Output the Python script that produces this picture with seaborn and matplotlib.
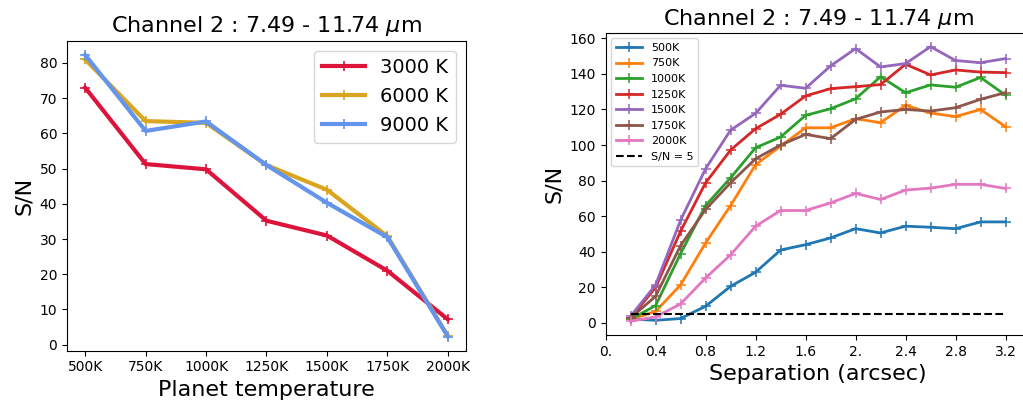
import matplotlib
matplotlib.use("Agg")
import matplotlib.pyplot as plt
import seaborn as sns
import numpy as np
import pandas as pd

# ---- Left panel data ----
planet_temps = ["500K", "750K", "1000K", "1250K", "1500K", "1750K", "2000K"]
star_labels = ["3000 K", "6000 K", "9000 K"]
sn_3000 = [73.0, 51.3, 49.8, 35.2, 31.0, 21.0, 7.2]
sn_6000 = [81.0, 63.5, 63.0, 51.0, 44.0, 30.8, 2.5]
sn_9000 = [82.3, 60.7, 63.4, 51.0, 40.3, 30.5, 2.3]
left_colors = ["crimson", "goldenrod", "cornflowerblue"]

# ---- Right panel data ----
separation = [0.2, 0.4, 0.6, 0.8, 1.0, 1.2, 1.4, 1.6, 1.8, 2.0, 2.2, 2.4, 2.6, 2.8, 3.0, 3.2]
sep_labels = ["500K", "750K", "1000K", "1250K", "1500K", "1750K", "2000K"]
sn_500 = [2.2, 1.5, 2.5, 9.4, 20.6, 28.5, 41.0, 44.0, 47.8, 53.0, 50.6, 54.4, 53.8, 53.0, 56.8, 56.8]
sn_750 = [2.0, 6.5, 21.4, 45.0, 66.0, 89.0, 99.4, 109.7, 109.7, 114.8, 112.6, 122.3, 118.0, 116.0, 120.0, 110.3]
sn_1000 = [2.0, 9.8, 39.0, 66.0, 81.6, 98.5, 104.5, 116.7, 120.4, 126.0, 138.4, 129.4, 133.8, 132.5, 138.0, 128.0]
sn_1250 = [2.8, 20.0, 51.6, 78.8, 97.2, 109.2, 117.3, 127.6, 131.7, 132.8, 134.0, 145.4, 139.4, 142.2, 141.0, 140.7]
sn_1500 = [3.8, 21.4, 57.8, 86.7, 108.4, 117.8, 133.6, 131.9, 144.5, 154.2, 143.9, 145.8, 155.3, 147.5, 146.3, 148.6]
sn_1750 = [2.8, 15.0, 43.5, 63.8, 78.8, 92.3, 100.0, 106.0, 103.6, 114.4, 118.6, 120.0, 119.1, 121.0, 125.7, 129.5]
sn_2000 = [1.0, 3.4, 10.7, 25.3, 38.3, 54.4, 63.2, 63.2, 67.5, 72.8, 69.4, 74.7, 75.8, 77.9, 77.9, 75.6]
threshold = 5
sep_ticks = [0.0, 0.4, 0.8, 1.2, 1.6, 2.0, 2.4, 2.8, 3.2]
sep_ticklabels = ["0.", "0.4", "0.8", "1.2", "1.6", "2.", "2.4", "2.8", "3.2"]

fig = plt.figure(figsize=(10.23, 4.04), dpi=100)
ax1 = fig.add_axes([0.0655, 0.132, 0.390, 0.767])
ax2 = fig.add_axes([0.592, 0.171, 0.4154, 0.7475])

title = r"Channel 2 : 7.49 - 11.74 $\mu$m"

# Left panel
xpos = np.arange(len(planet_temps))
for vals, lab, col in zip([sn_3000, sn_6000, sn_9000], star_labels, left_colors):
    sns.lineplot(x=xpos, y=vals, ax=ax1, color=col, linewidth=3, marker="+",
                 markersize=7, markeredgewidth=1.2, markeredgecolor=col, label=lab)
ax1.set_xticks(xpos)
ax1.set_xticklabels(planet_temps)
ax1.set_xlabel("Planet temperature", fontsize=16)
ax1.set_ylabel("S/N", fontsize=16)
ax1.set_title(title, fontsize=16)
ax1.tick_params(labelsize=10)
ax1.legend(fontsize=14, loc="upper right", handlelength=2.2)

# Right panel
right_series = [sn_500, sn_750, sn_1000, sn_1250, sn_1500, sn_1750, sn_2000]
tab = sns.color_palette("tab10")
right_colors = [tab[0], tab[1], tab[2], tab[3], tab[4], tab[5], tab[6]]
for vals, lab, col in zip(right_series, sep_labels, right_colors):
    sns.lineplot(x=separation, y=vals, ax=ax2, color=col, linewidth=2, marker="+",
                 markersize=6.5, markeredgewidth=1.1, markeredgecolor=col, label=lab)
sns.lineplot(x=[separation[0], separation[-1]], y=[threshold, threshold], ax=ax2,
             color="black", linestyle="--", linewidth=1.5, label="S/N = 5")
ax2.set_xlim(0, 3.4)
ax2.set_xticks(sep_ticks)
ax2.set_xticklabels(sep_ticklabels)
ax2.set_xlabel("Separation (arcsec)", fontsize=16)
ax2.set_ylabel("S/N", fontsize=16)
ax2.set_title(title, fontsize=16)
ax2.tick_params(labelsize=10)
ax2.legend(fontsize=8, loc="upper left", handlelength=2.4)

fig.savefig("out.png", dpi=100)
